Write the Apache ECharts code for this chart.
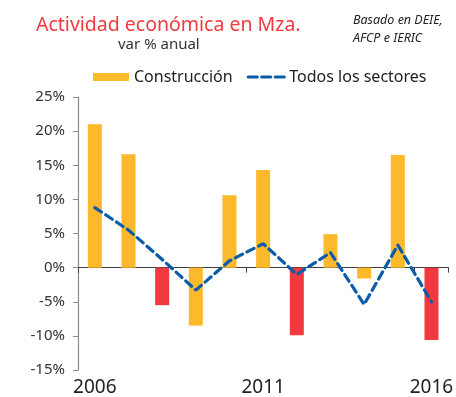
<!DOCTYPE html>
<html>
<head>
<meta charset="utf-8">
<script src="https://cdn.jsdelivr.net/npm/echarts@6/dist/echarts.min.js"></script>
<style>
  html, body { margin: 0; padding: 0; background: #fff; }
  #chart { width: 456px; height: 397px; }
</style>
</head>
<body>
<div id="chart"></div>
<script>
// Annual variation (%) of economic activity in Mendoza
const years = ['2006', '2007', '2008', '2009', '2010', '2011', '2012', '2013', '2014', '2015', '2016'];
const construccion = [21.0, 16.6, -5.5, -8.5, 10.6, 14.3, -9.9, 4.9, -1.6, 16.5, -10.6];
const todosSectores = [8.8, 5.5, 1.2, -3.3, 1.0, 3.5, -1.0, 2.2, -5.4, 3.3, -5.0];
// Years whose construction bar is drawn in red
const highlightYears = ['2008', '2012', '2016'];
const yTicks = [-15, -10, -5, 0, 5, 10, 15, 20, 25];

const YELLOW = '#FDB92C';
const RED = '#F2393F';
const BLUE = '#0A5CA9';
const FONT = 'Noto Sans';

const chart = echarts.init(document.getElementById('chart'), null, { renderer: 'canvas' });

const everyFifth = (i) => i % 5 === 0;

chart.setOption({
  animation: false,
  backgroundColor: '#ffffff',
  textStyle: { fontFamily: FONT },
  title: [
    {
      text: 'Actividad económica en Mza.',
      left: 31, top: 10,
      textStyle: { color: RED, fontSize: 19.5, fontWeight: 'normal', fontFamily: FONT }
    },
    {
      text: 'var % anual',
      left: 113, top: 32,
      textStyle: { color: '#333', fontSize: 15, fontWeight: 'normal', fontFamily: FONT }
    },
    {
      text: 'Basado en DEIE,\nAFCP e IERIC',
      left: 348, top: 6,
      textStyle: { color: '#222', fontSize: 12.5, fontStyle: 'italic', fontWeight: 'normal', fontFamily: FONT, lineHeight: 18 }
    }
  ],
  legend: {
    left: 88, top: 64,
    itemWidth: 36, itemHeight: 8, itemGap: 14,
    textStyle: { fontSize: 16, color: '#222', fontFamily: FONT },
    data: [
      { name: 'Construcción', icon: 'rect', itemStyle: { color: YELLOW } },
      { name: 'Todos los sectores', itemStyle: { opacity: 0 }, lineStyle: { color: BLUE, width: 3.2, type: [9, 4.5] } }
    ]
  },
  grid: { left: 78, right: 3, top: 97, bottom: 26, containLabel: false },
  xAxis: [
    {
      type: 'category',
      data: years,
      boundaryGap: true,
      axisLine: { onZero: true, lineStyle: { color: '#404040', width: 1.2 } },
      axisTick: { show: true, interval: everyFifth, length: 5, inside: false, lineStyle: { color: '#404040' } },
      axisLabel: { show: false }
    },
    {
      type: 'category',
      data: years,
      boundaryGap: true,
      position: 'bottom',
      axisLine: { show: false, onZero: false },
      axisTick: { show: false },
      axisLabel: { interval: everyFifth, margin: 8, fontSize: 19, color: '#222', fontFamily: FONT }
    }
  ],
  yAxis: {
    type: 'value',
    min: yTicks[0], max: yTicks[yTicks.length - 1], interval: 5,
    axisLine: { show: true, lineStyle: { color: '#8a8a8a', width: 1.2 } },
    axisTick: { show: true, length: 5, lineStyle: { color: '#8a8a8a' } },
    splitLine: { show: false },
    axisLabel: { formatter: '{value}%', fontSize: 15, color: '#333', margin: 13, fontFamily: FONT }
  },
  series: [
    {
      name: 'Construcción',
      type: 'bar',
      data: construccion,
      barWidth: 14,
      itemStyle: {
        color: (p) => highlightYears.includes(years[p.dataIndex]) ? RED : YELLOW
      },
      z: 2
    },
    {
      name: 'Todos los sectores',
      type: 'line',
      data: todosSectores,
      symbol: 'none',
      color: BLUE,
      lineStyle: { color: BLUE, width: 3.2, type: [8, 5], cap: 'round' },
      z: 3
    }
  ]
});
</script>
</body>
</html>
